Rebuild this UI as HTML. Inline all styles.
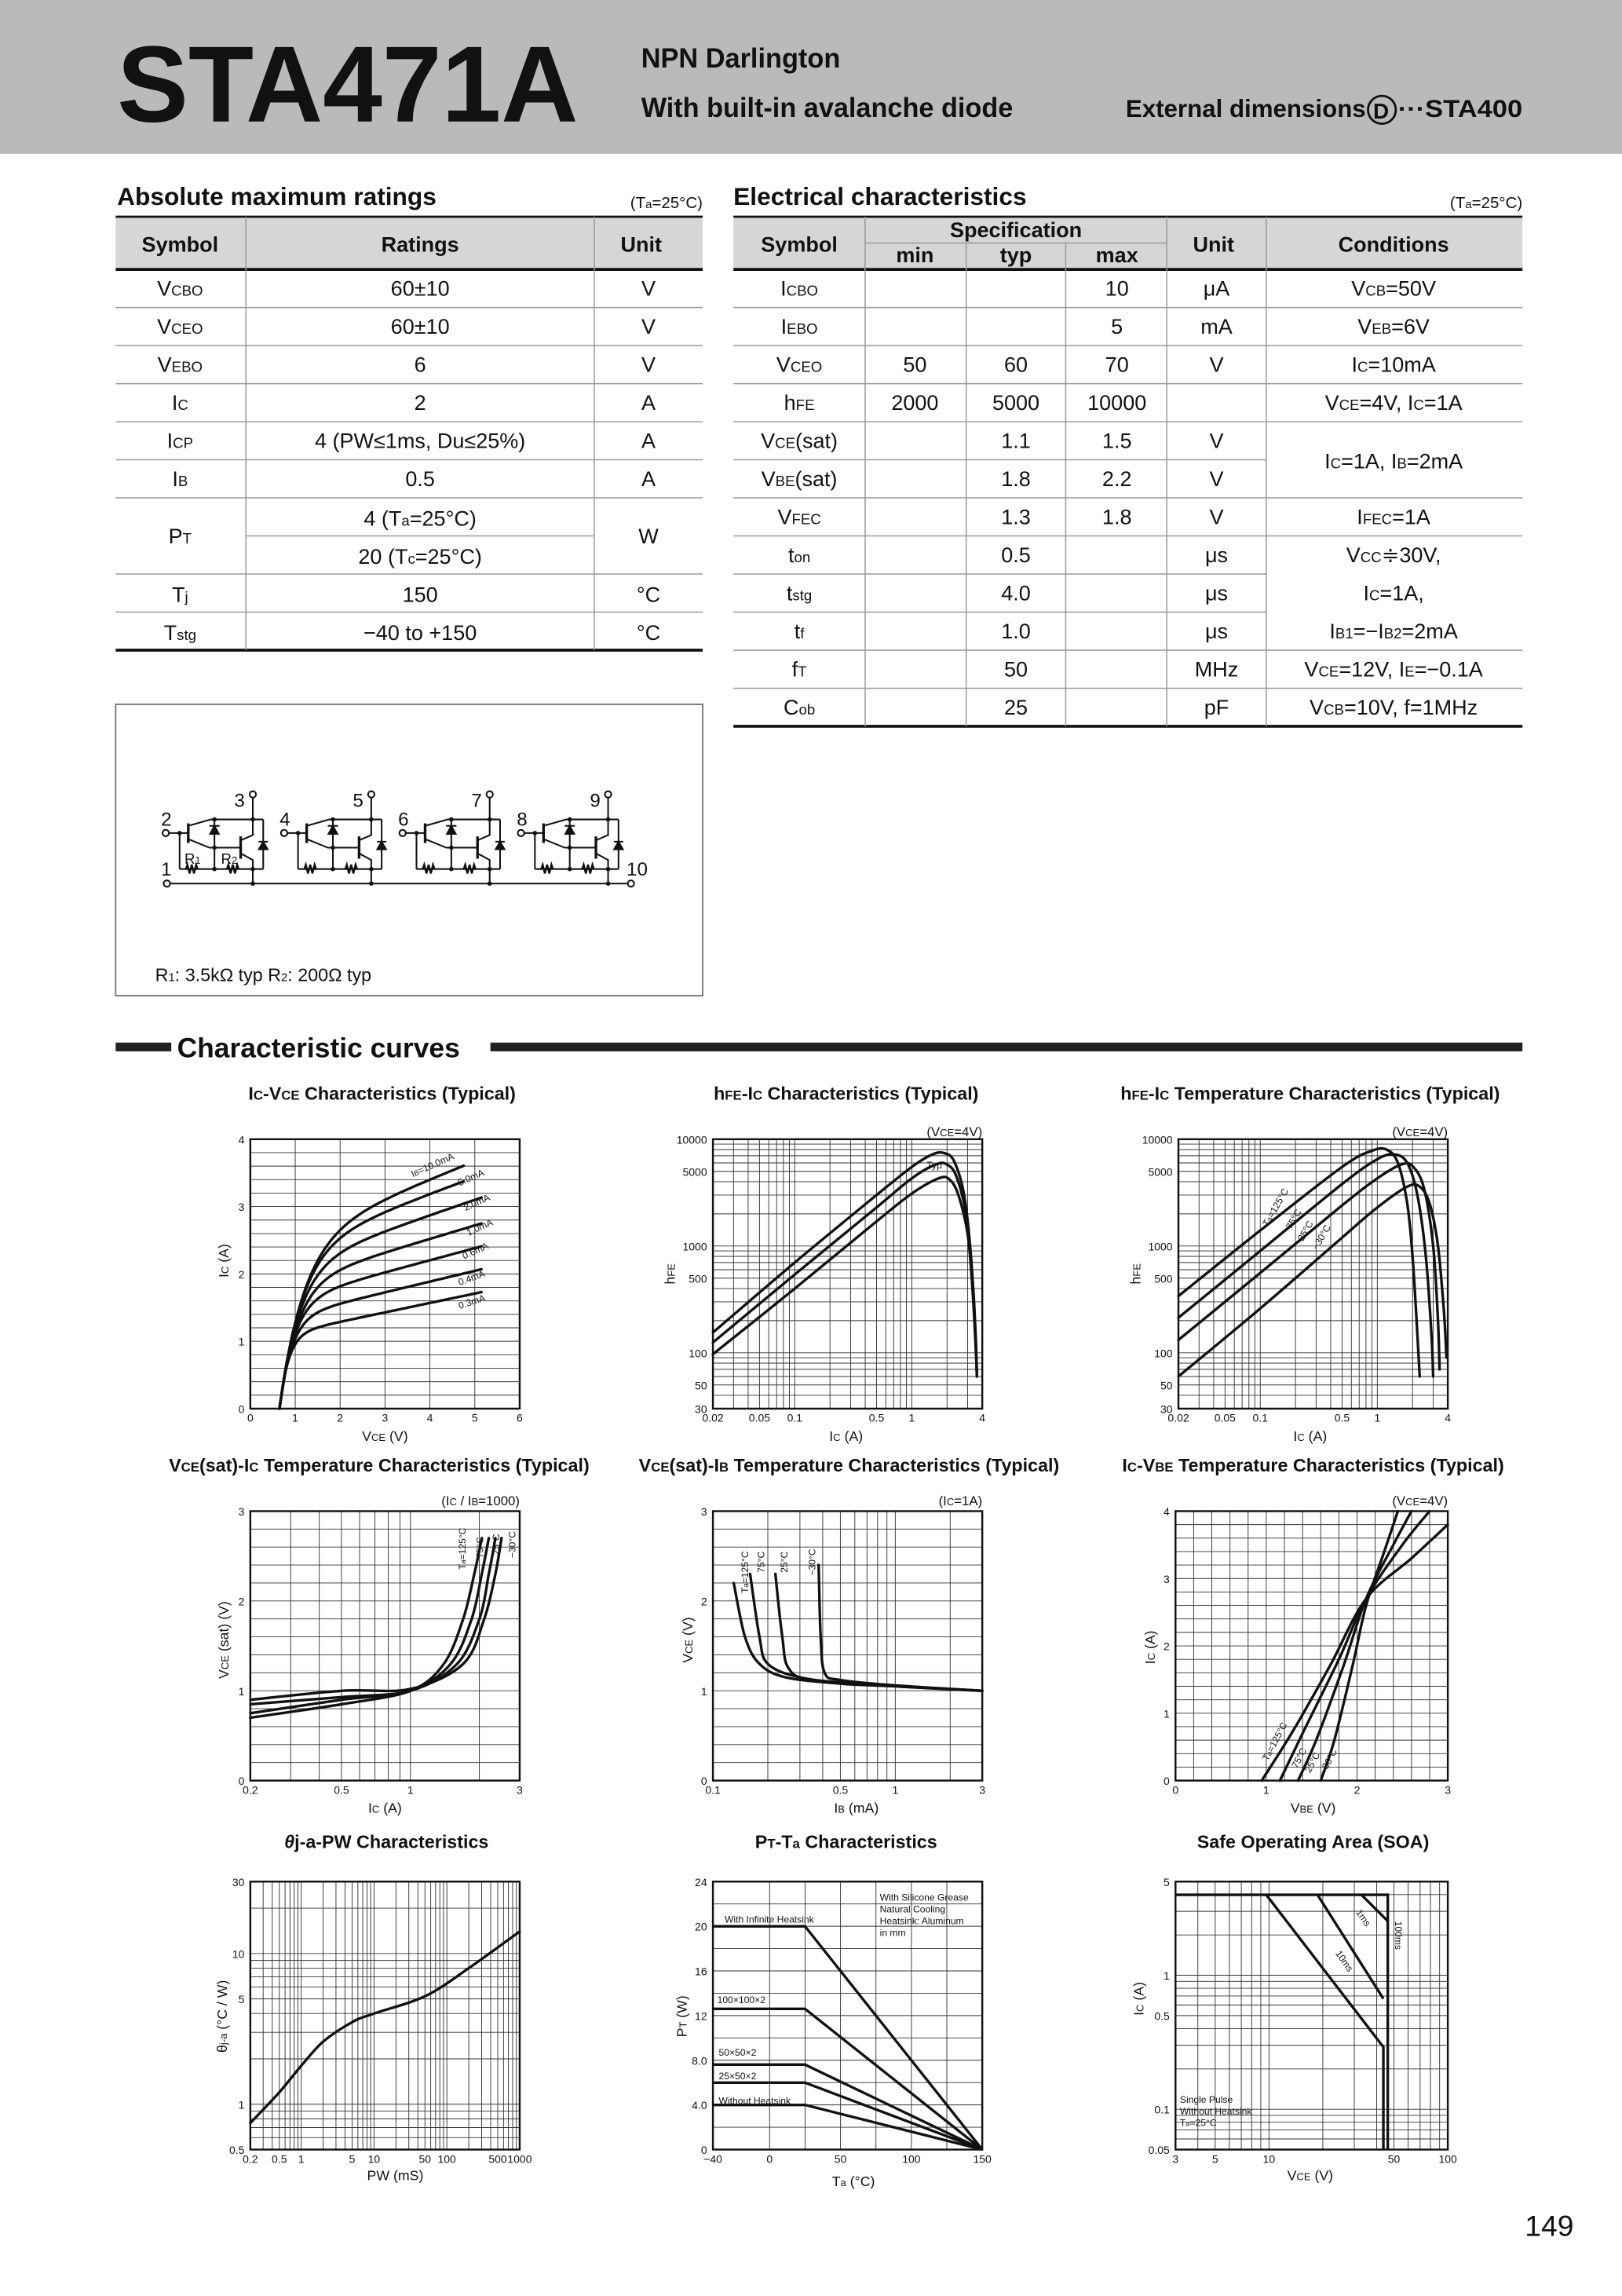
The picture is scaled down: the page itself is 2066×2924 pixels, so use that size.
<!DOCTYPE html>
<html><head><meta charset="utf-8"><style>
html,body{margin:0;padding:0;background:#fff}
svg{display:block}
text{font-family:"Liberation Sans",sans-serif;fill:#111}
.t15{font-size:14.5px}
.s{font-size:10px}
.ct{font-size:12.5px;font-weight:bold}
.tk{font-size:7.5px}
.at{font-size:9.5px}
.sm{font-size:6.5px}
</style></head><body>
<svg id="sv" width="2066" height="2924" viewBox="0 0 1108 1568" preserveAspectRatio="none" xmlns="http://www.w3.org/2000/svg">
<rect x="0" y="0" width="1108" height="105" fill="#bababa"/>
<text x="80" y="83" font-size="74" font-weight="bold" textLength="315" lengthAdjust="spacingAndGlyphs">STA471A</text>
<text x="438" y="46" font-size="19" font-weight="bold" textLength="136" lengthAdjust="spacingAndGlyphs">NPN Darlington</text>
<text x="438" y="80" font-size="19" font-weight="bold" textLength="254" lengthAdjust="spacingAndGlyphs">With built-in avalanche diode</text>
<text x="769" y="80" font-size="17" font-weight="bold" textLength="164" lengthAdjust="spacingAndGlyphs">External dimensions</text>
<circle cx="944" cy="75" r="9.5" fill="none" stroke="#111" stroke-width="1.5"/>
<text x="938" y="81" font-size="15" font-weight="bold">D</text>
<text x="955" y="80" font-size="17" font-weight="bold" textLength="85" lengthAdjust="spacingAndGlyphs">···STA400</text>

<!-- Left table -->
<text x="80" y="140" font-size="17" font-weight="bold">Absolute maximum ratings</text>
<text x="480" y="142" font-size="11" text-anchor="end">(T<tspan font-size="8">a</tspan>=25°C)</text>
<rect x="79" y="148" width="401" height="36" fill="#d6d6d6"/>
<line x1="79" y1="148" x2="480" y2="148" stroke="#111" stroke-width="1.5"/>
<line x1="79" y1="184" x2="480" y2="184" stroke="#111" stroke-width="2"/>
<line x1="79" y1="444" x2="480" y2="444" stroke="#111" stroke-width="2"/>
<g stroke="#999" stroke-width="0.8">
<line x1="79" y1="210" x2="480" y2="210"/><line x1="79" y1="236" x2="480" y2="236"/><line x1="79" y1="262" x2="480" y2="262"/><line x1="79" y1="288" x2="480" y2="288"/><line x1="79" y1="314" x2="480" y2="314"/><line x1="79" y1="340" x2="480" y2="340"/><line x1="168" y1="366" x2="406" y2="366"/><line x1="79" y1="392" x2="480" y2="392"/><line x1="79" y1="418" x2="480" y2="418"/>
<line x1="168" y1="148" x2="168" y2="444"/><line x1="406" y1="148" x2="406" y2="444"/>
</g>
<g class="t15" text-anchor="middle">
<text x="123" y="172" font-weight="bold">Symbol</text><text x="287" y="172" font-weight="bold">Ratings</text><text x="438" y="172" font-weight="bold">Unit</text>
<text x="123" y="202">V<tspan class="s">CBO</tspan></text><text x="287" y="202">60±10</text><text x="443" y="202">V</text>
<text x="123" y="228">V<tspan class="s">CEO</tspan></text><text x="287" y="228">60±10</text><text x="443" y="228">V</text>
<text x="123" y="254">V<tspan class="s">EBO</tspan></text><text x="287" y="254">6</text><text x="443" y="254">V</text>
<text x="123" y="280">I<tspan class="s">C</tspan></text><text x="287" y="280">2</text><text x="443" y="280">A</text>
<text x="123" y="306">I<tspan class="s">CP</tspan></text><text x="287" y="306">4 (PW≤1ms, Du≤25%)</text><text x="443" y="306">A</text>
<text x="123" y="332">I<tspan class="s">B</tspan></text><text x="287" y="332">0.5</text><text x="443" y="332">A</text>
<text x="123" y="371">P<tspan class="s">T</tspan></text><text x="287" y="359">4 (T<tspan class="s">a</tspan>=25°C)</text><text x="287" y="385">20 (T<tspan class="s">c</tspan>=25°C)</text><text x="443" y="371">W</text>
<text x="123" y="411">T<tspan class="s">j</tspan></text><text x="287" y="411">150</text><text x="443" y="411">°C</text>
<text x="123" y="437">T<tspan class="s">stg</tspan></text><text x="287" y="437">−40 to +150</text><text x="443" y="437">°C</text>
</g>

<!-- Right table -->
<text x="501" y="140" font-size="17" font-weight="bold">Electrical characteristics</text>
<text x="1040" y="142" font-size="11" text-anchor="end">(T<tspan font-size="8">a</tspan>=25°C)</text>
<rect x="501" y="148" width="539" height="36" fill="#d6d6d6"/>
<line x1="501" y1="148" x2="1040" y2="148" stroke="#111" stroke-width="1.5"/>
<line x1="501" y1="184" x2="1040" y2="184" stroke="#111" stroke-width="2"/>
<line x1="501" y1="496" x2="1040" y2="496" stroke="#111" stroke-width="2"/>
<g stroke="#999" stroke-width="0.8">
<line x1="591" y1="166" x2="797" y2="166"/>
<line x1="501" y1="210" x2="1040" y2="210"/><line x1="501" y1="236" x2="1040" y2="236"/><line x1="501" y1="262" x2="1040" y2="262"/><line x1="501" y1="288" x2="1040" y2="288"/><line x1="501" y1="314" x2="865" y2="314"/><line x1="501" y1="340" x2="1040" y2="340"/><line x1="501" y1="366" x2="1040" y2="366"/><line x1="501" y1="392" x2="865" y2="392"/><line x1="501" y1="418" x2="865" y2="418"/><line x1="501" y1="444" x2="1040" y2="444"/><line x1="501" y1="470" x2="1040" y2="470"/>
<line x1="591" y1="148" x2="591" y2="496"/><line x1="660" y1="166" x2="660" y2="496"/><line x1="728" y1="166" x2="728" y2="496"/><line x1="797" y1="148" x2="797" y2="496"/><line x1="865" y1="148" x2="865" y2="496"/>
</g>
<g class="t15" text-anchor="middle">
<text x="546" y="172" font-weight="bold">Symbol</text><text x="694" y="162" font-weight="bold">Specification</text>
<text x="625" y="179" font-weight="bold">min</text><text x="694" y="179" font-weight="bold">typ</text><text x="763" y="179" font-weight="bold">max</text>
<text x="829" y="172" font-weight="bold">Unit</text><text x="952" y="172" font-weight="bold">Conditions</text>
<text x="546" y="202">I<tspan class="s">CBO</tspan></text><text x="763" y="202">10</text><text x="831" y="202">μA</text><text x="952" y="202">V<tspan class="s">CB</tspan>=50V</text>
<text x="546" y="228">I<tspan class="s">EBO</tspan></text><text x="763" y="228">5</text><text x="831" y="228">mA</text><text x="952" y="228">V<tspan class="s">EB</tspan>=6V</text>
<text x="546" y="254">V<tspan class="s">CEO</tspan></text><text x="625" y="254">50</text><text x="694" y="254">60</text><text x="763" y="254">70</text><text x="831" y="254">V</text><text x="952" y="254">I<tspan class="s">C</tspan>=10mA</text>
<text x="546" y="280">h<tspan class="s">FE</tspan></text><text x="625" y="280">2000</text><text x="694" y="280">5000</text><text x="763" y="280">10000</text><text x="952" y="280">V<tspan class="s">CE</tspan>=4V, I<tspan class="s">C</tspan>=1A</text>
<text x="546" y="306">V<tspan class="s">CE</tspan>(sat)</text><text x="694" y="306">1.1</text><text x="763" y="306">1.5</text><text x="831" y="306">V</text>
<text x="546" y="332">V<tspan class="s">BE</tspan>(sat)</text><text x="694" y="332">1.8</text><text x="763" y="332">2.2</text><text x="831" y="332">V</text>
<text x="952" y="320">I<tspan class="s">C</tspan>=1A, I<tspan class="s">B</tspan>=2mA</text>
<text x="546" y="358">V<tspan class="s">FEC</tspan></text><text x="694" y="358">1.3</text><text x="763" y="358">1.8</text><text x="831" y="358">V</text><text x="952" y="358">I<tspan class="s">FEC</tspan>=1A</text>
<text x="546" y="384">t<tspan class="s">on</tspan></text><text x="694" y="384">0.5</text><text x="831" y="384">μs</text><text x="952" y="384">V<tspan class="s">CC</tspan>≑30V,</text>
<text x="546" y="410">t<tspan class="s">stg</tspan></text><text x="694" y="410">4.0</text><text x="831" y="410">μs</text><text x="952" y="410">I<tspan class="s">C</tspan>=1A,</text>
<text x="546" y="436">t<tspan class="s">f</tspan></text><text x="694" y="436">1.0</text><text x="831" y="436">μs</text><text x="952" y="436">I<tspan class="s">B1</tspan>=−I<tspan class="s">B2</tspan>=2mA</text>
<text x="546" y="462">f<tspan class="s">T</tspan></text><text x="694" y="462">50</text><text x="831" y="462">MHz</text><text x="952" y="462">V<tspan class="s">CE</tspan>=12V, I<tspan class="s">E</tspan>=−0.1A</text>
<text x="546" y="488">C<tspan class="s">ob</tspan></text><text x="694" y="488">25</text><text x="831" y="488">pF</text><text x="952" y="488">V<tspan class="s">CB</tspan>=10V, f=1MHz</text>
</g>

<!-- Circuit -->
<rect x="79" y="481" width="401" height="199" fill="none" stroke="#777" stroke-width="1"/>
<defs>
<g id="unit" stroke="#111" stroke-width="1.1" fill="none">
<circle cx="113.2" cy="568.9" r="2.2" fill="#fff"/>
<line x1="115.4" y1="568.9" x2="128.6" y2="568.9"/>
<line x1="122.7" y1="568.9" x2="122.7" y2="593.5"/>
<line x1="122.7" y1="593.5" x2="179.8" y2="593.5"/>
<line x1="128.6" y1="562.3" x2="128.6" y2="575.7" stroke-width="1.8"/>
<polyline points="128.6,564 144.1,559.6 179.8,559.6"/>
<polyline points="128.6,573 143,578.9 164.4,578.9"/>
<line x1="146.5" y1="559.6" x2="146.5" y2="593.5"/>
<polygon points="143.5,569.5 149.5,569.5 146.5,564" fill="#111"/>
<line x1="143" y1="564" x2="150" y2="564"/>
<line x1="164.4" y1="571.2" x2="164.4" y2="586.4" stroke-width="1.8"/>
<polyline points="164.4,573.9 172.7,570.3 172.7,544.4"/>
<polyline points="164.4,582.8 172.7,587.3 172.7,603.4"/>
<line x1="179.8" y1="559.6" x2="179.8" y2="593.5"/>
<polygon points="176.8,580 182.8,580 179.8,574.8" fill="#111"/>
<line x1="176.6" y1="574.8" x2="183" y2="574.8"/>
<circle cx="172.7" cy="542.5" r="2.2" fill="#fff"/>
<polyline points="127,593.5 128,590.5 129.5,596.5 131,590.5 132.5,596.5 134,590.5 135,593.5" stroke-width="1.3"/>
<polyline points="155,593.5 156,590.5 157.5,596.5 159,590.5 160.5,596.5 162,590.5 163,593.5" stroke-width="1.3"/>
<g fill="#111" stroke="none"><circle cx="122.7" cy="568.9" r="1.5"/><circle cx="146.5" cy="559.6" r="1.5"/><circle cx="172.7" cy="559.6" r="1.5"/><circle cx="146.5" cy="578.9" r="1.5"/><circle cx="146.5" cy="593.5" r="1.5"/><circle cx="172.7" cy="593.5" r="1.5"/><circle cx="172.7" cy="603.4" r="1.5"/></g>
</g>
</defs>
<use href="#unit"/><use href="#unit" x="80.9"/><use href="#unit" x="161.8"/><use href="#unit" x="242.7"/>
<line x1="116" y1="603.4" x2="429" y2="603.4" stroke="#111" stroke-width="1.1"/>
<circle cx="114" cy="603.4" r="2.2" fill="#fff" stroke="#111" stroke-width="1.1"/>
<circle cx="431" cy="603.4" r="2.2" fill="#fff" stroke="#111" stroke-width="1.1"/>
<g font-size="13">
<text x="160" y="551">3</text><text x="241" y="551">5</text><text x="322" y="551">7</text><text x="403" y="551">9</text>
<text x="110" y="564">2</text><text x="191" y="564">4</text><text x="272" y="564">6</text><text x="353" y="564">8</text>
<text x="110" y="598">1</text><text x="428" y="598">10</text>
<text x="126" y="590" font-size="10">R<tspan font-size="7">1</tspan></text><text x="151" y="590" font-size="10">R<tspan font-size="7">2</tspan></text>
</g>
<text x="106" y="670" font-size="12.5">R<tspan font-size="8">1</tspan>: 3.5kΩ typ  R<tspan font-size="8">2</tspan>: 200Ω typ</text>

<!-- Characteristic curves header -->
<rect x="79" y="712" width="38" height="6" fill="#222"/>
<rect x="335" y="712" width="705" height="6" fill="#222"/>
<text x="121" y="722" font-size="19" font-weight="bold">Characteristic curves</text>

<g class="ct" text-anchor="middle">
<text x="261" y="751">I<tspan font-size="9">C</tspan>-V<tspan font-size="9">CE</tspan> Characteristics (Typical)</text>
<text x="578" y="751">h<tspan font-size="9">FE</tspan>-I<tspan font-size="9">C</tspan> Characteristics (Typical)</text>
<text x="895" y="751">h<tspan font-size="9">FE</tspan>-I<tspan font-size="9">C</tspan> Temperature Characteristics (Typical)</text>
<text x="259" y="1005">V<tspan font-size="9">CE</tspan>(sat)-I<tspan font-size="9">C</tspan> Temperature Characteristics (Typical)</text>
<text x="580" y="1005">V<tspan font-size="9">CE</tspan>(sat)-I<tspan font-size="9">B</tspan>  Temperature Characteristics (Typical)</text>
<text x="897" y="1005">I<tspan font-size="9">C</tspan>-V<tspan font-size="9">BE</tspan> Temperature Characteristics (Typical)</text>
<text x="264" y="1262"><tspan font-style="italic">θ</tspan>j-a-PW Characteristics</text>
<text x="578" y="1262">P<tspan font-size="9">T</tspan>-T<tspan font-size="9">a</tspan> Characteristics</text>
<text x="897" y="1262">Safe Operating Area (SOA)</text>
</g>
<g font-size="9" text-anchor="end">
<text x="671" y="776">(V<tspan font-size="7">CE</tspan>=4V)</text>
<text x="989" y="776">(V<tspan font-size="7">CE</tspan>=4V)</text>
<text x="355" y="1028">(I<tspan font-size="7">C</tspan> / I<tspan font-size="7">B</tspan>=1000)</text>
<text x="671" y="1028">(I<tspan font-size="7">C</tspan>=1A)</text>
<text x="989" y="1028">(V<tspan font-size="7">CE</tspan>=4V)</text>
</g>

<!-- axis titles -->
<g class="at" text-anchor="middle">
<text transform="translate(156,861) rotate(-90)">I<tspan font-size="7">C</tspan>  (A)</text>
<text x="263" y="984">V<tspan font-size="7">CE</tspan>  (V)</text>
<text transform="translate(461,870) rotate(-90)">h<tspan font-size="7">FE</tspan></text>
<text x="578" y="984">I<tspan font-size="7">C</tspan>  (A)</text>
<text transform="translate(779,870) rotate(-90)">h<tspan font-size="7">FE</tspan></text>
<text x="895" y="984">I<tspan font-size="7">C</tspan>  (A)</text>
<text transform="translate(156,1120) rotate(-90)">V<tspan font-size="7">CE</tspan> (sat) (V)</text>
<text x="263" y="1238">I<tspan font-size="7">C</tspan>  (A)</text>
<text transform="translate(473,1120) rotate(-90)">V<tspan font-size="7">CE</tspan>  (V)</text>
<text x="585" y="1238">I<tspan font-size="7">B</tspan>  (mA)</text>
<text transform="translate(789,1125) rotate(-90)">I<tspan font-size="7">C</tspan>  (A)</text>
<text x="897" y="1238">V<tspan font-size="7">BE</tspan>  (V)</text>
<text transform="translate(155,1377) rotate(-90)">θ<tspan font-size="7">j-a</tspan>  (°C / W)</text>
<text x="270" y="1489">PW  (mS)</text>
<text transform="translate(469,1377) rotate(-90)">P<tspan font-size="7">T</tspan>  (W)</text>
<text x="583" y="1493">T<tspan font-size="7">a</tspan>  (°C)</text>
<text transform="translate(781,1365) rotate(-90)">I<tspan font-size="7">C</tspan>  (A)</text>
<text x="895" y="1489">V<tspan font-size="7">CE</tspan>  (V)</text>
</g>

<!-- in-chart labels -->
<g class="sm">
<text transform="translate(282,804) rotate(-24)">I<tspan font-size="5">B</tspan>=10.0mA</text>
<text transform="translate(314,810) rotate(-24)">5.0mA</text>
<text transform="translate(318,827) rotate(-24)">2.0mA</text>
<text transform="translate(320,844) rotate(-24)">1.0mA</text>
<text transform="translate(317,860) rotate(-24)">0.6mA</text>
<text transform="translate(314,878) rotate(-20)">0.4mA</text>
<text transform="translate(314,894) rotate(-18)">0.3mA</text>
<text x="633" y="798">Typ</text>
<text transform="translate(866,838) rotate(-60)">T<tspan font-size="5">a</tspan>=125°C</text>
<text transform="translate(882,840) rotate(-60)">75°C</text>
<text transform="translate(890,848) rotate(-60)">25°C</text>
<text transform="translate(900,854) rotate(-60)">−30°C</text>
<text transform="translate(318,1072) rotate(-90)">T<tspan font-size="5">a</tspan>=125°C</text>
<text transform="translate(330,1064) rotate(-90)">75°C</text>
<text transform="translate(341,1062) rotate(-90)">25°C</text>
<text transform="translate(352,1064) rotate(-90)">−30°C</text>
<text transform="translate(511,1088) rotate(-90)">T<tspan font-size="5">a</tspan>=125°C</text>
<text transform="translate(522,1074) rotate(-90)">75°C</text>
<text transform="translate(538,1074) rotate(-90)">25°C</text>
<text transform="translate(557,1076) rotate(-90)">−30°C</text>
<text transform="translate(866,1203) rotate(-62)">T<tspan font-size="5">a</tspan>=125°C</text>
<text transform="translate(886,1208) rotate(-62)">75°C</text>
<text transform="translate(895,1211) rotate(-62)">25°C</text>
<text transform="translate(905,1212) rotate(-62)">−30°C</text>
<text x="495" y="1313">With Infinite Heatsink</text>
<text x="490" y="1368">100×100×2</text>
<text x="491" y="1404">50×50×2</text>
<text x="491" y="1420">25×50×2</text>
<text x="491" y="1437">Without Heatsink</text>
<text x="806" y="1436">Single Pulse</text>
<text x="806" y="1444">Without Heatsink</text>
<text x="806" y="1452">T<tspan font-size="5">a</tspan>=25°C</text>
<text transform="translate(926,1306) rotate(55)">1ms</text>
<text transform="translate(912,1334) rotate(55)">10ms</text>
<text transform="translate(953,1312) rotate(90)">100ms</text>
</g>
<rect x="598" y="1288" width="73" height="40" fill="#fff"/>
<g class="sm"><text x="601" y="1298">With Silicone Grease</text><text x="601" y="1306">Natural Cooling</text><text x="601" y="1314">Heatsink: Aluminum</text><text x="601" y="1322">in mm</text></g>

<g id="charts"></g>
<text x="1075" y="1527" font-size="20" text-anchor="end">149</text>
</svg>
<script>
(function(){
var NS='http://www.w3.org/2000/svg',root=document.getElementById('charts');
function el(t,a,p){var e=document.createElementNS(NS,t);for(var k in a)e.setAttribute(k,a[k]);(p||root).appendChild(e);return e;}
function map(min,max,log,a,b){return function(v){return log?a+(Math.log10(v)-Math.log10(min))/(Math.log10(max)-Math.log10(min))*(b-a):a+(v-min)/(max-min)*(b-a);};}
function logGrid(min,max){var r=[];for(var e=Math.floor(Math.log10(min))-1;e<=Math.ceil(Math.log10(max));e++)for(var m=1;m<10;m++){var v=m*Math.pow(10,e);if(v>=min*0.999&&v<=max*1.001)r.push(v);}return r;}
function lin(a,b,s){var r=[];for(var v=a;v<=b+1e-9;v+=s)r.push(v);return r;}
function smooth(p){var d='M'+p[0][0].toFixed(1)+','+p[0][1].toFixed(1);for(var i=0;i<p.length-1;i++){var p0=p[i-1]||p[i],p1=p[i],p2=p[i+1],p3=p[i+2]||p2;d+='C'+(p1[0]+(p2[0]-p0[0])/6).toFixed(1)+','+(p1[1]+(p2[1]-p0[1])/6).toFixed(1)+' '+(p2[0]-(p3[0]-p1[0])/6).toFixed(1)+','+(p2[1]-(p3[1]-p1[1])/6).toFixed(1)+' '+p2[0].toFixed(1)+','+p2[1].toFixed(1);}return d;}
function chart(c){
 var X=map(c.xr[0],c.xr[1],c.xl,c.x,c.x+c.w),Y=map(c.yr[0],c.yr[1],c.yl,c.y+c.h,c.y);
 var g=el('g',{});
 var xg=c.xl?logGrid(c.xr[0],c.xr[1]):c.xg,yg=c.yl?logGrid(c.yr[0],c.yr[1]):c.yg;
 xg.forEach(function(v){var x=X(v);el('line',{x1:x,x2:x,y1:c.y,y2:c.y+c.h,stroke:'#333','stroke-width':0.5},g);});
 yg.forEach(function(v){var y=Y(v);el('line',{x1:c.x,x2:c.x+c.w,y1:y,y2:y,stroke:'#333','stroke-width':0.5},g);});
 el('rect',{x:c.x,y:c.y,width:c.w,height:c.h,fill:'none',stroke:'#111','stroke-width':1.3},g);
 c.xt.forEach(function(t){var e=el('text',{x:X(t[0]),y:c.y+c.h+9,'text-anchor':'middle','class':'tk'},g);e.textContent=t[1];});
 c.yt.forEach(function(t){var e=el('text',{x:c.x-4,y:Y(t[0])+3,'text-anchor':'end','class':'tk'},g);e.textContent=t[1];});
 (c.curves||[]).forEach(function(cv){var p=cv.map(function(q){return [X(q[0]),Y(q[1])];});el('path',{d:smooth(p),fill:'none',stroke:'#111','stroke-width':c.sw||1.8,'stroke-linecap':'round'},g);});
 (c.lines||[]).forEach(function(cv){var p=cv.map(function(q){return X(q[0]).toFixed(1)+','+Y(q[1]).toFixed(1);}).join(' ');el('polyline',{points:p,fill:'none',stroke:'#111','stroke-width':1.8},g);});
}
// c1
var c1=[];var sat=[[3.72,4.8],[3.5,4.8],[3.2,5.2],[2.8,5.2],[2.45,5.2],[2.1,5.2],[1.75,5.2]];
var P=[[2.5,0.55,0.27],[2.35,0.5,0.25],[2.1,0.45,0.23],[1.85,0.4,0.2],[1.6,0.33,0.18],[1.35,0.27,0.16],[1.1,0.2,0.14]];
for(var i=0;i<7;i++){var a=P[i],pts=[];var xe=sat[i][1];for(var v=0.65;v<=xe+1e-6;v+=0.1){pts.push([v,a[0]*(1-Math.exp(-(v-0.65)/a[1]))+a[2]*(v-0.65)]);}c1.push(pts);}
chart({x:171,y:778,w:184,h:184,xr:[0,6],yr:[0,4],xg:lin(0,6,1),yg:lin(0,4,0.2),xt:[[0,'0'],[1,'1'],[2,'2'],[3,'3'],[4,'4'],[5,'5'],[6,'6']],yt:[[0,'0'],[1,'1'],[2,'2'],[3,'3'],[4,'4']],curves:c1});
var hx=[[0.02,'0.02'],[0.05,'0.05'],[0.1,'0.1'],[0.5,'0.5'],[1,'1'],[4,'4']],hy=[[30,'30'],[50,'50'],[100,'100'],[500,'500'],[1000,'1000'],[5000,'5000'],[10000,'10000']];
chart({x:487,y:778,w:184,h:184,xr:[0.02,4],xl:1,yr:[30,10000],yl:1,xt:hx,yt:hy,curves:[
[[0.02,155],[0.1,700],[0.5,3000],[1.0,5500],[1.5,7200],[1.9,7400],[2.3,6200],[2.8,3000],[3.2,800],[3.5,150],[3.6,60]],
[[0.02,125],[0.1,540],[0.5,2300],[1,4300],[1.6,5800],[2.0,5800],[2.4,4500],[2.9,2000],[3.3,500],[3.5,150],[3.6,60]],
[[0.02,97],[0.1,400],[0.5,1700],[1,3100],[1.7,4300],[2.1,4200],[2.5,3000],[3.0,1300],[3.3,400],[3.5,120],[3.6,60]]]});
chart({x:805,y:778,w:184,h:184,xr:[0.02,4],xl:1,yr:[30,10000],yl:1,xt:hx,yt:hy,curves:[
[[0.02,340],[0.1,1400],[0.5,5500],[0.9,7800],[1.2,8000],[1.5,6000],[1.8,2500],[2.0,800],[2.2,150],[2.3,60]],
[[0.02,213],[0.1,900],[0.5,3800],[1,6500],[1.4,7200],[1.8,6000],[2.2,3000],[2.6,800],[2.9,150],[3.0,60]],
[[0.02,132],[0.1,560],[0.5,2400],[1,4300],[1.6,5800],[2.0,5600],[2.5,3500],[3.0,1000],[3.3,200],[3.4,70]],
[[0.02,60],[0.1,260],[0.5,1200],[1,2300],[1.8,3600],[2.3,3600],[2.8,2500],[3.3,1000],[3.7,250],[3.9,90]]]});
var y3=[[0,'0'],[1,'1'],[2,'2'],[3,'3']];
chart({x:171,y:1032,w:184,h:184,xr:[0.2,3],xl:1,yr:[0,3],yg:lin(0,3,0.2),xt:[[0.2,'0.2'],[0.5,'0.5'],[1,'1'],[3,'3']],yt:y3,curves:[
[[0.2,0.7],[0.5,0.85],[1,1.0],[1.4,1.3],[1.7,1.8],[1.9,2.3],[2.05,2.7]],
[[0.2,0.75],[0.5,0.9],[1,1.0],[1.5,1.3],[1.85,1.8],[2.05,2.3],[2.2,2.7]],
[[0.2,0.85],[0.5,0.93],[1,1.0],[1.6,1.3],[2.0,1.8],[2.2,2.3],[2.35,2.7]],
[[0.2,0.9],[0.5,1.0],[1,1.02],[1.7,1.3],[2.1,1.8],[2.35,2.3],[2.5,2.7]]]});
chart({x:487,y:1032,w:184,h:184,xr:[0.1,3],xl:1,yr:[0,3],yg:lin(0,3,0.2),xt:[[0.1,'0.1'],[0.5,'0.5'],[1,'1'],[3,'3']],yt:y3,curves:[
[[0.13,2.2],[0.15,1.6],[0.18,1.3],[0.25,1.15],[0.5,1.08],[1,1.05],[3,1.0]],
[[0.16,2.3],[0.18,1.6],[0.2,1.3],[0.3,1.15],[0.6,1.08],[3,1.0]],
[[0.22,2.3],[0.24,1.6],[0.26,1.25],[0.35,1.12],[1,1.05],[3,1.0]],
[[0.38,2.4],[0.39,1.6],[0.41,1.2],[0.5,1.12],[1,1.06],[3,1.0]]]});
chart({x:803,y:1032,w:186,h:184,xr:[0,3],yr:[0,4],xg:lin(0,3,0.2),yg:lin(0,4,0.2),xt:[[0,'0'],[1,'1'],[2,'2'],[3,'3']],yt:[[0,'0'],[1,'1'],[2,'2'],[3,'3'],[4,'4']],curves:[
[[0.95,0],[1.3,0.75],[1.7,1.7],[2.1,2.7],[2.6,3.3],[3.0,3.8]],
[[1.15,0],[1.4,0.7],[1.8,1.8],[2.1,2.7],[2.5,3.5],[2.8,4.0]],
[[1.35,0],[1.55,0.6],[1.85,1.7],[2.1,2.7],[2.4,3.5],[2.6,4.0]],
[[1.6,0],[1.75,0.6],[1.95,1.7],[2.1,2.6],[2.3,3.4],[2.45,4.0]]]});
chart({x:171,y:1285,w:184,h:183,xr:[0.2,1000],xl:1,yr:[0.5,30],yl:1,xt:[[0.2,'0.2'],[0.5,'0.5'],[1,'1'],[5,'5'],[10,'10'],[50,'50'],[100,'100'],[500,'500'],[1000,'1000']],yt:[[0.5,'0.5'],[1,'1'],[5,'5'],[10,'10'],[30,'30']],curves:[
[[0.2,0.75],[0.5,1.2],[1,1.8],[2,2.6],[5,3.5],[10,4.0],[50,5.2],[200,8],[1000,14]]]});
chart({x:487,y:1285,w:184,h:183,xr:[-40,150],yr:[0,24],xg:[0,25,50,75,100,125],yg:lin(0,24,2),xt:[[-40,'−40'],[0,'0'],[50,'50'],[100,'100'],[150,'150']],yt:[[0,'0'],[4,'4.0'],[8,'8.0'],[12,'12'],[16,'16'],[20,'20'],[24,'24']],lines:[
[[-40,20],[25,20],[150,0]],[[-40,12.6],[25,12.6],[150,0]],[[-40,7.6],[25,7.6],[150,0]],[[-40,6],[25,6],[150,0]],[[-40,4],[25,4],[150,0]]]});
chart({x:803,y:1285,w:186,h:183,xr:[3,100],xl:1,yr:[0.05,5],yl:1,xt:[[3,'3'],[5,'5'],[10,'10'],[50,'50'],[100,'100']],yt:[[0.05,'0.05'],[0.1,'0.1'],[0.5,'0.5'],[1,'1'],[5,'5']],lines:[]});
var g9=el('g',{fill:'none',stroke:'#111','stroke-width':1.8});
el('polyline',{points:'803,1294 948,1294 948,1468'},g9);
el('polyline',{points:'865,1294 945,1398 945,1468'},g9);
el('polyline',{points:'900,1294 945,1365'},g9);
el('polyline',{points:'930,1294 948,1312'},g9);
})();
</script>
</body></html>
